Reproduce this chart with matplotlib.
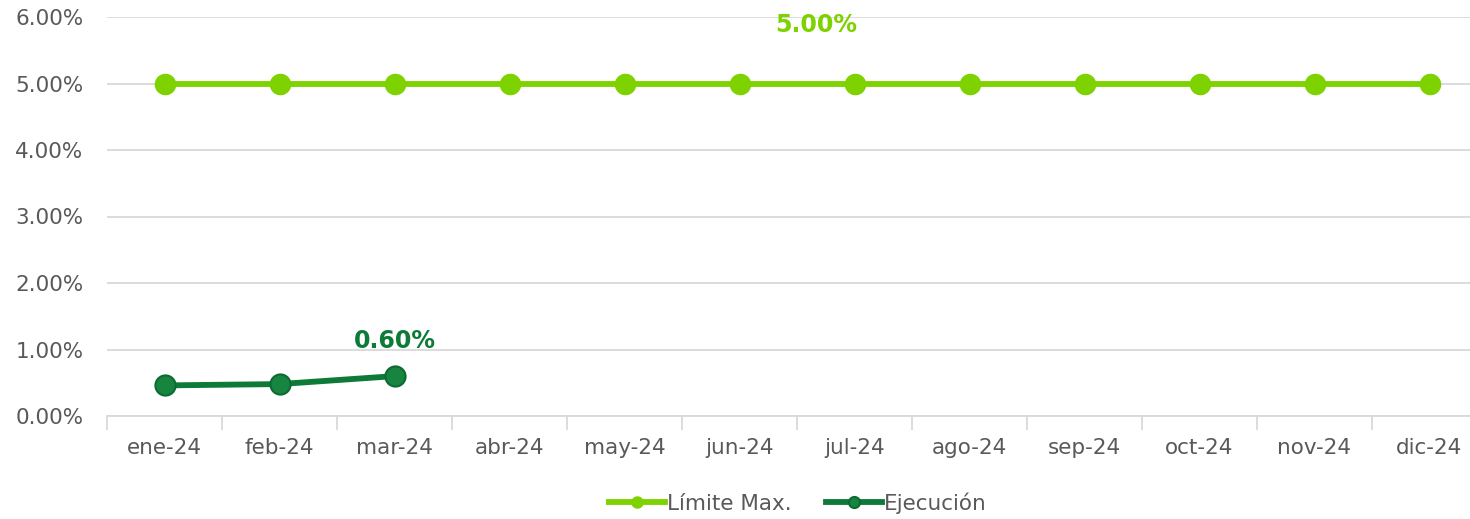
import matplotlib
matplotlib.use("Agg")
import matplotlib.pyplot as plt
from matplotlib.ticker import FuncFormatter, FixedLocator, NullFormatter

months = ["ene-24", "feb-24", "mar-24", "abr-24", "may-24", "jun-24",
          "jul-24", "ago-24", "sep-24", "oct-24", "nov-24", "dic-24"]
limite_max = [5.0] * 12
ejecucion = [0.46, 0.48, 0.60]

lime = "#7ED200"
dark = "#0E7A38"
grid_c = "#D9D9D9"
text_c = "#595959"

plt.rcParams['font.family'] = ['DejaVu Sans']

fig = plt.figure(figsize=(14.7, 5.19), dpi=100)
ax = fig.add_axes([107 / 1470, 103 / 519, 1380 / 1470, 399 / 519])

x = list(range(len(months)))
ax.plot(x, limite_max, color=lime, lw=4.2, marker="o", ms=14.5,
        mfc=lime, mec=lime, label="Límite Max.", zorder=3)
ax.plot(x[:len(ejecucion)], ejecucion, color=dark, lw=4.2, marker="o", ms=14.5,
        mfc="#17843F", mec="#0C6B31", mew=1.5, label="Ejecución", zorder=3)

ax.text(5.67, 5.88, "5.00%", color=lime, fontsize=17, fontweight="bold",
        ha="center", va="center")
ax.text(2, 1.13, f"{ejecucion[-1]:.2f}%", color=dark, fontsize=17,
        fontweight="bold", ha="center", va="center")

ax.set_xlim(-0.5, len(months) - 0.5)
ax.set_ylim(0, 6)
ax.set_yticks([0, 1, 2, 3, 4, 5, 6])
ax.yaxis.set_major_formatter(FuncFormatter(lambda v, p: f"{v:.2f}%"))
ax.grid(axis="y", color=grid_c, lw=1.3)
ax.set_axisbelow(True)

ax.set_xticks(x)
ax.set_xticklabels(months)
ax.xaxis.set_minor_locator(FixedLocator([i - 0.5 for i in range(len(months) + 1)]))
ax.xaxis.set_minor_formatter(NullFormatter())
ax.tick_params(axis="x", which="major", length=0, pad=16, labelsize=15.5, labelcolor=text_c)
ax.tick_params(axis="x", which="minor", length=10, color=grid_c, width=1.3)
ax.tick_params(axis="y", length=0, pad=17, labelsize=15.5, labelcolor=text_c)

for s in ["top", "right", "left"]:
    ax.spines[s].set_visible(False)
ax.spines["bottom"].set_color(grid_c)
ax.spines["bottom"].set_linewidth(1.3)

leg = fig.legend(loc="center", bbox_to_anchor=(798 / 1470, 1 - 503 / 519), ncol=2,
                 frameon=False, fontsize=15.5, handlelength=2.6, handletextpad=0.1,
                 columnspacing=1.6, markerscale=0.55)
for t in leg.get_texts():
    t.set_color(text_c)

fig.savefig("out.png", dpi=100)
